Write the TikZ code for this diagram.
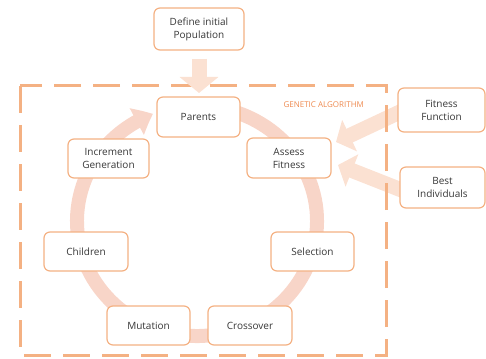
\documentclass[tikz,border=0pt]{standalone}
\usepackage{fontspec}
\setmainfont{Open Sans}
\usetikzlibrary{arrows.meta,bending}
\definecolor{boxline}{HTML}{F4B183}
\definecolor{ringcol}{HTML}{F8D5C8}
\definecolor{blockcol}{HTML}{FBE1D2}
\definecolor{gatext}{HTML}{EE8A50}
\definecolor{txt}{HTML}{383838}
\tikzset{
  stepbox/.style={draw=boxline, line width=1.2pt, fill=white, rounded corners=6pt,
    align=center, text=txt, font=\fontsize{10pt}{13pt}\selectfont, inner sep=0pt},
  blockarrow/.style={draw=blockcol, line width=15pt,
    -{Triangle[width=34pt,length=15pt]}},
}
\begin{document}
\begin{tikzpicture}[x=1pt,y=-1pt]
\useasboundingbox (0,0) rectangle (486,358);
% ring
\coordinate (rc) at (197,221);
\draw[ringcol, line width=14pt, -{Triangle[bend,width=29pt,length=18pt]}]
  (rc) ++(78:120pt and 115pt) arc[start angle=78, end angle=-248.5, x radius=120pt, y radius=115pt];
% side block arrows
\coordinate (ffa) at (402,111);
\coordinate (bia) at (404,191);
\draw[blockarrow] (ffa) -- (336,142);
\draw[blockarrow] (bia) -- (338,165);
% dashed frame
\draw[boxline, line width=3pt, dash pattern=on 27pt off 12pt] (20,86) rectangle (386,355);
\node[text=gatext, font=\fontsize{8pt}{9pt}\selectfont, anchor=west] (ga) at (280,105) {GENETIC ALGORITHM};
% nodes
\node[stepbox, minimum width=90pt, minimum height=42pt] (def) at (199,29) {Define initial\\Population};
\node[stepbox, minimum width=83pt, minimum height=40pt] (par) at (198.5,117) {Parents};
\node[stepbox, minimum width=81pt, minimum height=39pt] (inc) at (108.5,158.5) {Increment\\Generation};
\node[stepbox, minimum width=84pt, minimum height=39pt] (chi) at (86,251.5) {Children};
\node[stepbox, minimum width=84pt, minimum height=40pt] (ass) at (289,158) {Assess\\Fitness};
\node[stepbox, minimum width=87pt, minimum height=44pt] (ff) at (441.5,110) {Fitness\\Function};
\node[stepbox, minimum width=85pt, minimum height=41pt] (bi) at (442.5,187.5) {Best\\Individuals};
\node[stepbox, minimum width=83pt, minimum height=39pt] (sel) at (312.5,251.5) {Selection};
\node[stepbox, minimum width=83pt, minimum height=39pt] (mut) at (148.5,325.5) {Mutation};
\node[stepbox, minimum width=84pt, minimum height=39pt] (cro) at (250,325.5) {Crossover};
% down arrow
\coordinate (dtip) at (199,93);
\draw[draw=blockcol, line width=15pt, -{Triangle[width=38pt,length=16pt]}]
  (def.south) ++(0,8) -- (dtip);
\end{tikzpicture}
\end{document}
